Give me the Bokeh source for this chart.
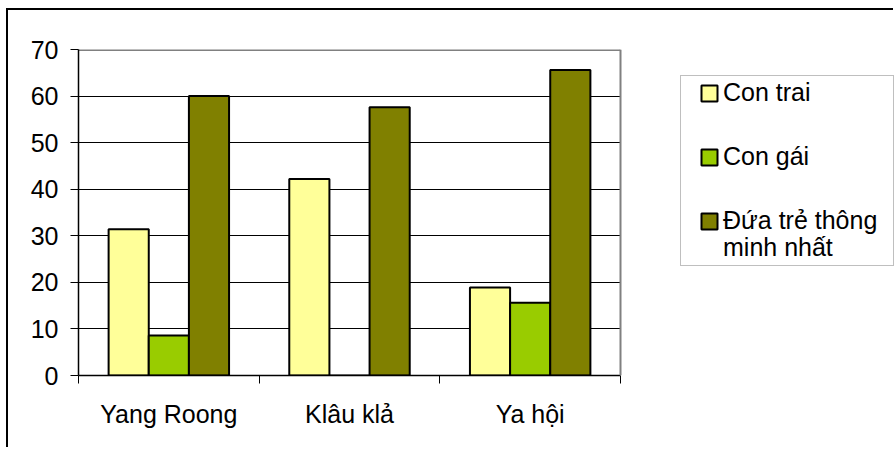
from bokeh.plotting import figure
from bokeh.models import (Range1d, FixedTicker, Legend, LegendItem, Span, BoxAnnotation, ColumnDataSource)
from bokeh.transform import dodge
from bokeh.embed import file_html
from bokeh.resources import INLINE

# ---- data ----
categories = ["Yang Roong", "Klâu klả", "Ya hội"]
series_names = ["Con trai", "Con gái", "Đứa trẻ thông minh nhất"]
con_trai = [31.4, 42.2, 18.9]
con_gai = [8.6, 0.0, 15.6]
thong_minh = [60.0, 57.6, 65.6]
y_ticks = [0, 10, 20, 30, 40, 50, 60, 70]
colors = ["#FFFF99", "#99CC00", "#808000"]

FONT = "Liberation Sans"

xs = [i + 0.5 for i in range(len(categories))]
src = ColumnDataSource(dict(x=xs, a=con_trai, b=con_gai, c=thong_minh))

W, H = 887, 439
LEFT = 70
n = len(categories)
plot_px = 542.0                    # width of the category area in pixels
frame_px = W - LEFT                # frame extends to the right edge (legend lives there)
x_end = n * frame_px / plot_px
y_top = y_ticks[-1]

p = figure(width=W, height=H, x_range=Range1d(0, x_end), y_range=Range1d(0, y_top),
           output_backend="svg", toolbar_location=None,
           min_border_left=LEFT, min_border_right=0, min_border_top=39, min_border_bottom=74,
           outline_line_color=None, background_fill_color="white", border_fill_color="white")
p.styles = {"border-left": "2px solid black", "border-top": "2px solid black",
            "margin-left": "6px", "margin-top": "8px"}

bw = 2.0 / 9.0
renderers = []
for col, off, color in zip(["a", "b", "c"], [-bw, 0.0, bw], colors):
    r = p.vbar(x=dodge("x", off, range=p.x_range), top=col, width=bw, bottom=0, source=src,
               fill_color=color, line_color="black", line_width=2)
    renderers.append(r)

# axes
p.yaxis.ticker = FixedTicker(ticks=y_ticks)
p.yaxis.major_tick_out = 8
p.yaxis.major_tick_in = 0
p.yaxis.minor_tick_line_color = None
p.yaxis.axis_line_color = "black"
p.yaxis.axis_line_width = 1.5
p.yaxis.major_tick_line_color = "black"
p.yaxis.major_label_text_font = FONT
p.yaxis.major_label_text_font_size = "25px"
p.yaxis.major_label_text_color = "black"
p.yaxis.major_label_standoff = 12

p.xaxis.bounds = (0, n)
p.xaxis.ticker = FixedTicker(ticks=xs, minor_ticks=list(range(n + 1)))
p.xaxis.major_label_overrides = {x: c for x, c in zip(xs, categories)}
p.xaxis.major_tick_out = 0
p.xaxis.major_tick_in = 0
p.xaxis.minor_tick_out = 8
p.xaxis.minor_tick_in = 0
p.xaxis.minor_tick_line_color = "black"
p.xaxis.axis_line_color = "black"
p.xaxis.axis_line_width = 1.5
p.xaxis.major_label_text_font = FONT
p.xaxis.major_label_text_font_size = "25px"
p.xaxis.major_label_text_color = "black"
p.xaxis.major_label_standoff = 16

p.xgrid.grid_line_color = None
p.ygrid.ticker = FixedTicker(ticks=y_ticks)
p.ygrid.grid_line_color = "black"
p.ygrid.grid_line_width = 1

# plot-area border (gray top and right), blank area to the right
p.add_layout(BoxAnnotation(left=n, fill_color="white", fill_alpha=1, line_color=None, line_alpha=0))
p.segment(x0=[0], y0=[y_top], x1=[n], y1=[y_top], line_color="#808080", line_width=3)
p.add_layout(Span(location=n, dimension="height", line_color="#808080", line_width=2))

# legend box (A)
dummy = p.vbar(x=[], top=[], width=0.1, fill_color=None, line_color=None)
box = Legend(items=[LegendItem(label=" ", renderers=[dummy])], location=(602, 109),
             padding=0, glyph_width=1, glyph_height=1, label_standoff=0,
             label_width=211, label_height=189, label_text_alpha=0, margin=0,
             border_line_color="#808080", border_line_width=1.5,
             background_fill_color="white", background_fill_alpha=1)
p.add_layout(box)

# legend items (B); the last name wraps onto a second line (C) like the original
words = series_names[2].split(" ")
first_line, second_line = " ".join(words[:3]), " ".join(words[3:])
labels = [series_names[0], series_names[1], first_line]
leg_style = dict(padding=0, margin=0, glyph_width=20, glyph_height=20, label_standoff=4,
                 label_height=24, label_text_font=FONT, label_text_font_size="25px",
                 label_text_color="black", border_line_color=None, background_fill_alpha=0)
leg = Legend(items=[LegendItem(label=s, renderers=[r]) for s, r in zip(labels, renderers)],
             location=(621, 140), spacing=35, **leg_style)
p.add_layout(leg)
leg2 = Legend(items=[LegendItem(label=second_line, renderers=[dummy])],
              location=(621, 113), **leg_style)
p.add_layout(leg2)

open("out.html", "w").write(file_html(p, INLINE))
